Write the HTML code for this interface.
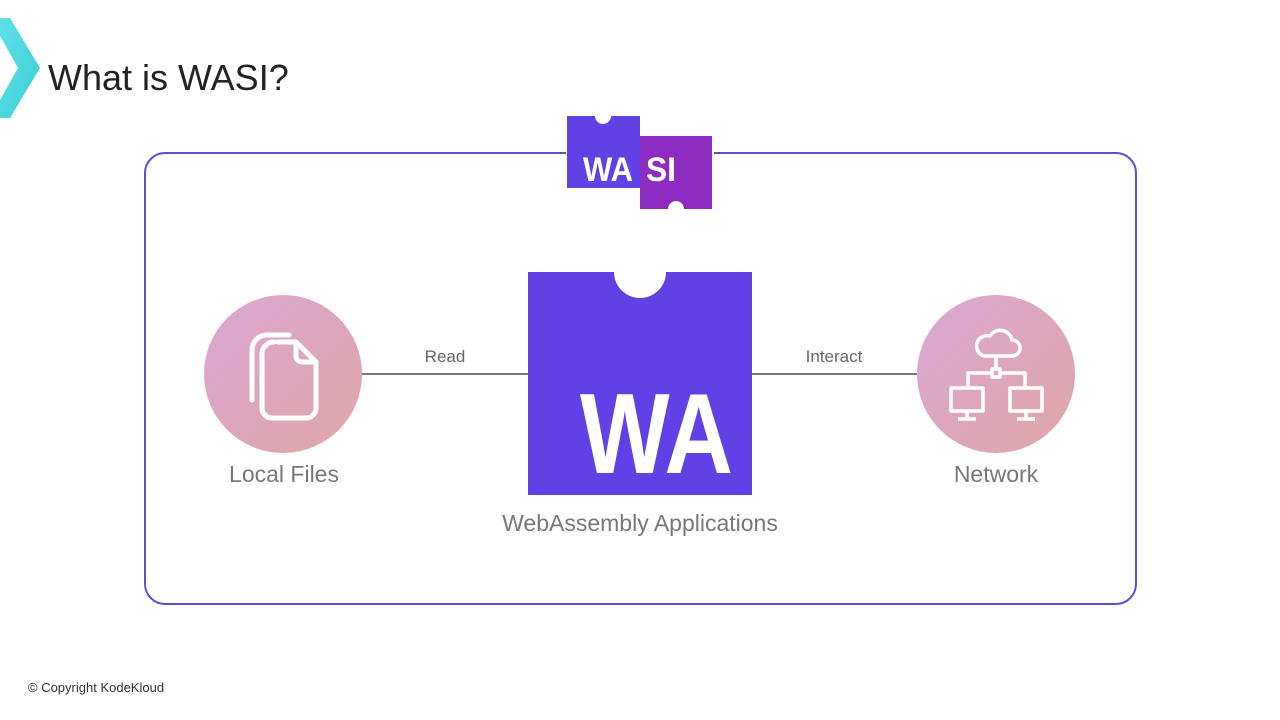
<!DOCTYPE html>
<html><head><meta charset="utf-8"><style>
html,body{margin:0;padding:0;background:#fff;width:1280px;height:720px;overflow:hidden}
</style></head><body>
<svg width="1280" height="720" viewBox="0 0 1280 720" xmlns="http://www.w3.org/2000/svg" font-family="Liberation Sans, DejaVu Sans, sans-serif">
<defs>
<linearGradient id="lg" x1="0" y1="0" x2="1" y2="1"><stop offset="0" stop-color="#5ee0e6"/><stop offset="1" stop-color="#3ccfd6"/></linearGradient>
<linearGradient id="pk" x1="0" y1="0" x2="1" y2="1"><stop offset="0" stop-color="#dca7d4"/><stop offset="1" stop-color="#dea6a6"/></linearGradient>
</defs>
<path d="M0,18 L10,18 L40,68 L10,118 L0,118 L0,100 L18,68 L0,36 Z" fill="url(#lg)"/>
<text x="48" y="90" font-size="36" fill="#222">What is WASI?</text>
<rect x="145" y="153" width="991" height="451" rx="20" fill="none" stroke="#5b4fd6" stroke-width="2"/>
<rect x="566" y="150" width="148" height="8" fill="#fff"/>
<rect x="567" y="116" width="73" height="72" fill="#6141e6"/>
<circle cx="603" cy="116" r="8" fill="#fff"/>
<rect x="640" y="136" width="72" height="73" fill="#8e2bc0"/>
<circle cx="676" cy="209" r="8" fill="#fff"/>
<text x="583" y="181" font-size="34" font-weight="bold" fill="#fff" textLength="50" lengthAdjust="spacingAndGlyphs">WA</text>
<text x="646" y="181" font-size="34" font-weight="bold" fill="#fff" textLength="30" lengthAdjust="spacingAndGlyphs">SI</text>
<line x1="362" y1="374" x2="528" y2="374" stroke="#777" stroke-width="2"/>
<line x1="752" y1="374" x2="917" y2="374" stroke="#777" stroke-width="2"/>
<text x="445" y="362" font-size="17" fill="#666" text-anchor="middle">Read</text>
<text x="834" y="362" font-size="17" fill="#666" text-anchor="middle">Interact</text>
<rect x="528" y="272" width="224" height="223" fill="#6141e6"/>
<circle cx="640" cy="272" r="26" fill="#fff"/>
<text x="580" y="473" font-size="114" font-weight="bold" fill="#fff" textLength="153" lengthAdjust="spacingAndGlyphs">WA</text>
<text x="640" y="531" font-size="23" fill="#777" text-anchor="middle">WebAssembly Applications</text>
<circle cx="283" cy="374" r="79" fill="url(#pk)"/>
<g fill="none" stroke="#fff" stroke-width="5" stroke-linecap="round" stroke-linejoin="round">
<path d="M252,400 V350 a15,15 0 0 1 15,-15 H289"/>
<path d="M278,342 H296 L316,362 V408 a10,10 0 0 1 -10,10 H272 a10,10 0 0 1 -10,-10 V354 a12,12 0 0 1 12,-12"/>
<path d="M296,344 V356 a6,6 0 0 0 6,6 H314"/>
</g>
<text x="284" y="482" font-size="23" fill="#777" text-anchor="middle">Local Files</text>
<circle cx="996" cy="374" r="79" fill="url(#pk)"/>
<g fill="none" stroke="#fff" stroke-width="3.5" stroke-linejoin="round">
<path d="M984,356 h28 a8,8 0 0 0 0,-16 a12,12 0 0 0 -22,-4 a9,9 0 0 0 -6,20 z"/>
<line x1="996" y1="356" x2="996" y2="369"/>
<rect x="992" y="369" width="8" height="8"/>
<path d="M992,373 H968 V388 M1000,373 H1025 V388"/>
<rect x="951" y="388" width="32" height="23"/>
<rect x="1010" y="388" width="32" height="23"/>
<path d="M967,411 v8 M958,419 h18 M1026,411 v8 M1017,419 h18"/>
</g>
<text x="996" y="482" font-size="23" fill="#777" text-anchor="middle">Network</text>
<text x="28" y="692" font-size="13" fill="#333">© Copyright KodeKloud</text>
</svg>
</body></html>
